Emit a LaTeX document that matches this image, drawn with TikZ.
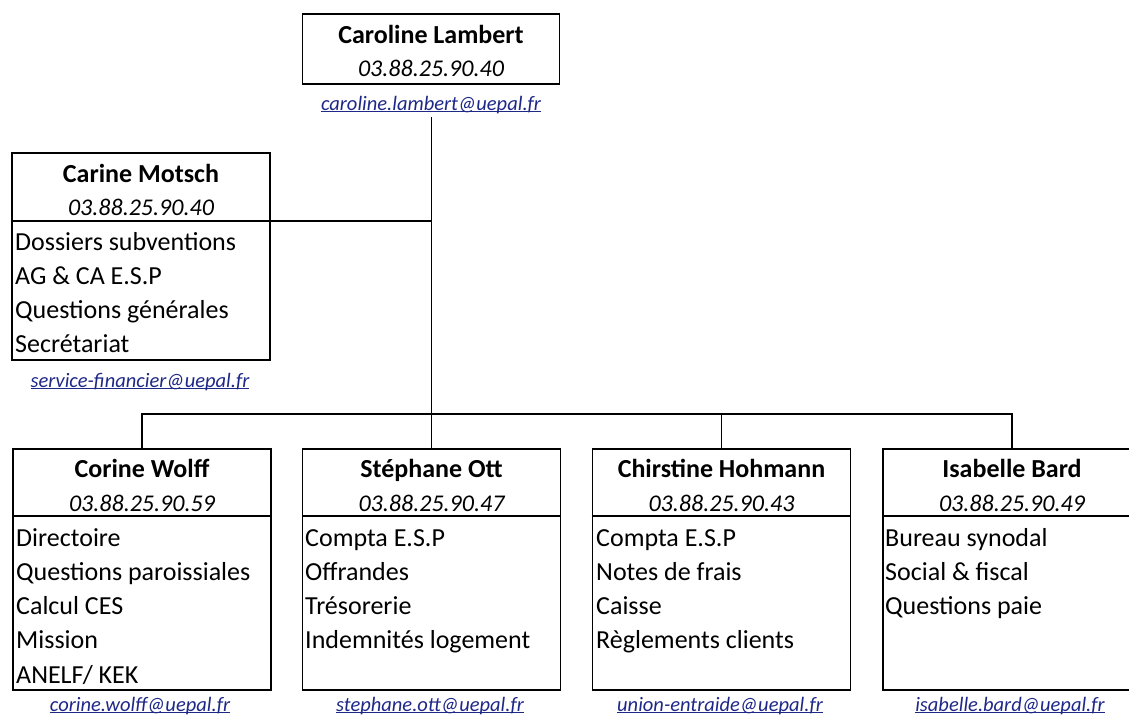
\documentclass[tikz,border=0pt]{standalone}
\usepackage{fontspec}
\setmainfont{Carlito}
\definecolor{mailblue}{RGB}{30,40,135}
\begin{document}
\begin{tikzpicture}[x=1pt,y=-1pt,
  frame/.style={draw, line width=1.6pt, minimum width=258pt, inner sep=0pt},
  pname/.style={anchor=base, inner sep=0pt, font=\fontsize{26}{30}\selectfont\bfseries},
  phone/.style={anchor=base, inner sep=0pt, font=\fontsize{24}{30}\selectfont\itshape},
  item/.style={anchor=base west, inner sep=0pt, font=\fontsize{26}{30}\selectfont},
  mail/.style={anchor=base, inner sep=0pt, text=mailblue, font=\fontsize{20.5}{24}\selectfont\itshape},
  link/.style={line width=1.5pt},
  divider/.style={line width=1.6pt}]
\useasboundingbox (0,0) rectangle (1129,716);
\clip (0,0) rectangle (1129,716);

% ---------- Caroline Lambert ----------
\node[frame, minimum width=257pt, minimum height=70pt] (cl) at (431,49) {};
\node[pname] (cln) at (431,43) {Caroline Lambert};
\node[phone] (clp) at (431,76) {03.88.25.90.40};
\node[mail] (clm) at (431,110) {\underline{\smash{caroline.lambert@uepal.fr}}};

% ---------- Carine Motsch ----------
\node[frame, minimum height=207pt] (cm) at (141,256.5) {};
\coordinate (cmd) at ([yshift=-69pt]cm.north east);
\draw[divider] ([yshift=-69pt]cm.north west) -- (cmd);
\node[pname] (cmn) at (141,182) {Carine Motsch};
\node[phone] (cmp) at (141,215) {03.88.25.90.40};
\foreach \t [count=\i] in {Dossiers subventions,AG \& CA E.S.P,Questions générales,Secrétariat}
  \node[item] (cm\i) at (15,{250+34*(\i-1)}) {\t};
\node[mail] (cmm) at (140,387) {\underline{\smash{service-financier@uepal.fr}}};

% ---------- bottom row ----------
\node[frame, minimum height=241pt] (cw) at (142,569.5) {};
\node[frame, minimum height=241pt] (st) at (431.5,569.5) {};
\node[frame, minimum height=241pt] (ch) at (721.5,569.5) {};
\node[frame, minimum height=241pt] (ib) at (1012,569.5) {};
\foreach \b in {cw,st,ch,ib}
  \draw[divider] ([yshift=-68pt]\b.north west) -- ([yshift=-68pt]\b.north east);

\node[pname] (cwn) at (142,477) {Corine Wolff};
\node[phone] (cwp) at (142,511) {03.88.25.90.59};
\foreach \t [count=\i] in {Directoire,Questions paroissiales,Calcul CES,Mission,ANELF/ KEK}
  \node[item] (cw\i) at (16,{546+34.25*(\i-1)}) {\t};
\node[mail] (cwm) at (140,711) {\underline{\smash{corine.wolff@uepal.fr}}};

\node[pname] (stn) at (431.5,477) {Stéphane Ott};
\node[phone] (stp) at (431.5,511) {03.88.25.90.47};
\foreach \t [count=\i] in {Compta E.S.P,Offrandes,Trésorerie,Indemnités logement}
  \node[item] (st\i) at (305,{546+34.25*(\i-1)}) {\t};
\node[mail] (stm) at (430,711) {\underline{\smash{stephane.ott@uepal.fr}}};

\node[pname] (chn) at (721.5,477) {Chirstine Hohmann};
\node[phone] (chp) at (721.5,511) {03.88.25.90.43};
\foreach \t [count=\i] in {Compta E.S.P,Notes de frais,Caisse,Règlements clients}
  \node[item] (ch\i) at (596,{546+34.25*(\i-1)}) {\t};
\node[mail] (chm) at (720,711) {\underline{\smash{union-entraide@uepal.fr}}};

\node[pname] (ibn) at (1012,477) {Isabelle Bard};
\node[phone] (ibp) at (1012,511) {03.88.25.90.49};
\foreach \t [count=\i] in {Bureau synodal,Social \& fiscal,Questions paie}
  \node[item] (ib\i) at (885,{546+34.25*(\i-1)}) {\t};
\node[mail] (ibm) at (1010,711) {\underline{\smash{isabelle.bard@uepal.fr}}};

% ---------- connectors ----------
\coordinate (top) at (431.5,117);
\coordinate (bus) at (431.5,414);
\draw[link] (top) -- (st.north);
\draw[link] (cmd) -- (cmd -| top);
\draw[link] (cw.north) |- (bus) -| (ib.north);
\draw[link] (ch.north) -- (ch.north |- bus);
\end{tikzpicture}
\end{document}
